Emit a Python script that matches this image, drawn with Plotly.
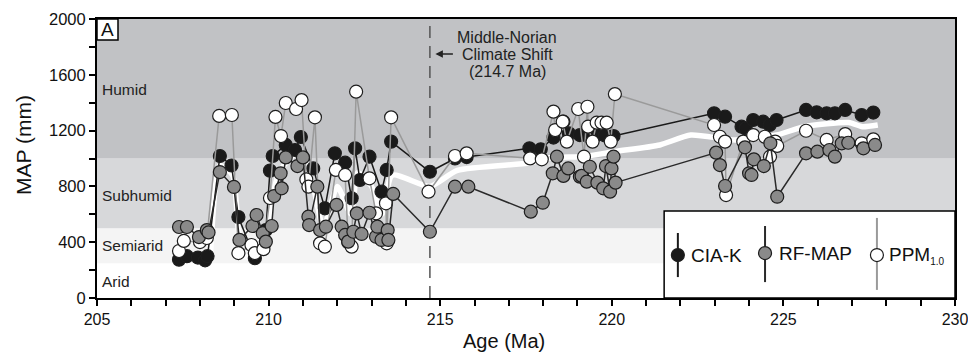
import plotly.graph_objects as go

# ---------------- data ----------------
cia_age = [207.39, 207.62, 207.94, 208.15, 208.22, 208.58, 208.92, 209.12, 209.6, 209.92,
           210.04, 210.12, 210.5, 210.77, 210.94, 211.3, 211.64, 211.93, 212.23, 212.42,
           212.52, 212.66, 212.94, 213.29, 213.44, 213.57, 214.7, 215.43, 215.77, 217.6,
           217.93, 218.3, 218.59, 218.75, 219.07, 219.3, 219.56, 219.8, 220.05, 222.98,
           223.3, 223.78, 223.9, 224.12, 224.41, 224.6, 224.8, 225.66, 225.97, 226.26,
           226.5, 226.8, 227.28, 227.62]
cia_map = [275, 300, 290, 270, 300, 1018, 950, 580, 285, 487,
           913, 1018, 1097, 1061, 1154, 929, 643, 1037, 970, 715,
           1073, 846, 1013, 762, 918, 1121, 905, 1000, 1010, 1073,
           1066, 1150, 1264, 1180, 1168, 1160, 1168, 1165, 1161, 1324,
           1300, 1228, 1216, 1276, 1264, 1240, 1276, 1348, 1331, 1324,
           1324, 1348, 1312, 1329]

rf_age = [207.39, 207.62, 207.97, 208.2, 208.25, 208.58, 208.99, 209.15, 209.53, 209.65,
          209.83, 209.92, 210.09, 210.16, 210.35, 210.38, 210.5, 210.84, 211.0, 211.16,
          211.18, 211.42, 211.5, 211.67, 211.98, 212.13, 212.23, 212.32, 212.47, 212.57,
          212.71, 212.94, 213.13, 213.17, 213.29, 213.47, 213.49, 213.63, 214.7, 215.43,
          215.82, 217.64, 217.99, 218.28, 218.4, 218.59, 218.73, 219.07, 219.12, 219.27,
          219.36, 219.58, 219.75, 219.83, 219.95, 219.99, 220.05, 220.11, 223.04, 223.15,
          223.3, 223.88, 224.0, 224.07, 224.14, 224.43, 224.62, 224.82, 225.66, 225.99,
          226.34, 226.5, 226.7, 226.89, 227.33, 227.67]
rf_map = [509, 509, 437, 487, 470, 903, 796, 416, 516, 595,
          464, 404, 516, 731, 894, 786, 1008, 946, 1008, 583,
          523, 798, 487, 511, 667, 511, 452, 404, 475, 607,
          459, 611, 439, 511, 416, 487, 416, 746, 475, 798,
          798, 619, 683, 894, 1013, 875, 929, 870, 875, 834,
          941, 827, 786, 946, 762, 929, 1013, 827, 1042, 953,
          803, 1080, 894, 882, 994, 946, 1109, 726, 1037, 1049,
          1061, 1013, 1109, 1113, 1073, 1097]

ppm_age = [207.39, 207.53, 208.0, 208.2, 208.56, 208.93, 209.12, 209.5, 209.6, 209.85,
           210.04, 210.2, 210.36, 210.5, 210.8, 210.96, 211.1, 211.16, 211.35, 211.5,
           211.64, 211.96, 212.23, 212.32, 212.42, 212.55, 212.94, 213.13, 213.42, 213.44,
           213.57, 214.66, 215.43, 215.77, 217.62, 217.96, 218.3, 218.35, 218.57, 218.69,
           219.02, 219.19, 219.29, 219.31, 219.44, 219.56, 219.7, 219.85, 219.97, 220.09,
           222.98, 223.15, 223.3, 223.33, 223.83, 224.12, 224.46, 224.61, 224.76, 224.82,
           225.66, 226.26, 226.8, 227.28, 227.62]
ppm_map = [337, 409, 401, 430, 1305, 1312, 322, 380, 322, 350,
           717, 1298, 1161, 1398, 1355, 1419, 850, 798, 1295, 392,
           368, 918, 882, 400, 368, 1479, 858, 607, 679, 392,
           1295, 762, 1018, 1037, 1001, 994, 1336, 1204, 1264, 1121,
           1355, 1013, 1371, 1228, 1121, 1257, 1257, 1257, 1121, 1462,
           1240, 1156, 1121, 738, 1121, 1168, 1156, 1013, 1121, 1090,
           1199, 1133, 1175, 1109, 1137]

trend_age = [208.3, 208.58, 208.95, 209.25, 209.75, 210.3, 210.9, 211.3, 211.6, 212.0,
             212.4, 212.6, 213.0, 213.3, 213.6, 214.7, 215.5, 217.6, 218.2, 219.2,
             220.1, 221.4, 222.3, 223.6, 224.8, 225.6, 226.9, 227.3, 227.75]
trend_map = [270, 950, 880, 300, 330, 900, 1050, 800, 500, 800,
             600, 900, 800, 600, 880, 800, 915, 968, 1005, 1015,
             1050, 1097, 1168, 1133, 1168, 1228, 1258, 1228, 1240]

bands = [(0, 250, "#ffffff"), (250, 500, "#f4f4f4"), (500, 1000, "#d7d8da"), (1000, 2000, "#c1c2c5")]
band_labels = [("Humid", 1498), ("Subhumid", 738), ("Semiarid", 373), ("Arid", 115)]
shift_age = 214.7
x_ticks = [205, 210, 215, 220, 225, 230]
y_ticks = [0, 400, 800, 1200, 1600, 2000]

FONT = "Arial, Liberation Sans, Helvetica, sans-serif"
fig = go.Figure()

# white trend line
fig.add_trace(go.Scatter(x=trend_age, y=trend_map, mode="lines",
                         line=dict(color="white", width=5.5, shape="spline", smoothing=0.6),
                         hoverinfo="skip"))

def series(x, y, fill, lcol):
    fig.add_trace(go.Scatter(x=x, y=y, mode="lines+markers",
                             line=dict(color=lcol, width=1.5),
                             marker=dict(size=13, color=fill, line=dict(color="#1e1e1e", width=1.2))))

series(cia_age, cia_map, "#1a1a1a", "#1a1a1a")
series(ppm_age, ppm_map, "#ffffff", "#9a9a9a")
series(rf_age, rf_map, "#8a8a8a", "#2a2a2a")

shapes = []
for y0, y1, c in bands:
    shapes.append(dict(type="rect", xref="paper", yref="y", x0=0, x1=1, y0=y0, y1=y1,
                       fillcolor=c, line=dict(width=0), layer="below"))
shapes.append(dict(type="line", xref="x", yref="paper", x0=shift_age, x1=shift_age, y0=0, y1=1,
                   line=dict(color="#555555", width=1.5, dash="12px,8px"), layer="below"))
# panel label box
shapes.append(dict(type="rect", xref="paper", yref="paper", x0=0, x1=21/858, y0=1-21/279, y1=1,
                   fillcolor="white", line=dict(color="black", width=1.5)))
# legend box
shapes.append(dict(type="rect", xref="paper", yref="paper", x0=0.661, x1=1, y0=0, y1=0.312,
                   fillcolor="white", line=dict(color="black", width=1.5)))
leg = [("CIA-K", 0.677, 0.154, 0.075, 0.233, "#1a1a1a", "#1a1a1a", 0.690),
       ("RF-MAP", 0.7786, 0.161, 0.057, 0.258, "#8a8a8a", "#2a2a2a", 0.7925),
       ("PPM<sub><span style='font-size:10px'>1.0</span></sub>", 0.909, 0.154, 0.029, 0.287,
        "#ffffff", "#9a9a9a", 0.9207)]
annotations = []
for name, cx, cy, ya, yb, fill, lcol, tx in leg:
    shapes.append(dict(type="line", xref="paper", yref="paper", x0=cx, x1=cx, y0=ya, y1=yb,
                       line=dict(color=lcol, width=2)))
    shapes.append(dict(type="circle", xref="paper", yref="paper", xsizemode="pixel", ysizemode="pixel",
                       xanchor=cx, yanchor=cy, x0=-6.5, x1=6.5, y0=-6.5, y1=6.5,
                       fillcolor=fill, line=dict(color="#1e1e1e", width=1.2)))
    annotations.append(dict(xref="paper", yref="paper", x=tx, y=cy, text=name, showarrow=False,
                            xanchor="left", yanchor="middle", font=dict(size=19, color="#111", family=FONT)))

for lab, yv in band_labels:
    annotations.append(dict(xref="paper", yref="y", x=3/858, y=yv, text=lab, showarrow=False,
                            xanchor="left", yanchor="middle", font=dict(size=15.5, color="#222", family=FONT)))
annotations.append(dict(xref="paper", yref="paper", x=10.5/858, y=1-10.5/279, text="A", showarrow=False,
                        xanchor="center", yanchor="middle", font=dict(size=19, color="#111", family=FONT)))
for txt, yv in [("Middle-Norian", 1868), ("Climate Shift", 1749), ("(214.7 Ma)", 1625)]:
    annotations.append(dict(x=216.95, y=yv, text=txt, showarrow=False, xanchor="center", yanchor="middle",
                            font=dict(size=16, color="#222", family=FONT)))
annotations.append(dict(x=214.86, y=1749, ax=19, ay=0, text="", showarrow=True, arrowhead=2,
                        arrowsize=1, arrowwidth=1.5, arrowcolor="#222"))
annotations.append(dict(xref="paper", yref="paper", x=-74/858, y=(298-145)/279, text="MAP (mm)",
                        textangle=-90, showarrow=False, xanchor="center", yanchor="middle",
                        font=dict(size=21, color="#111", family=FONT)))
annotations.append(dict(xref="paper", yref="paper", x=(504-97)/858, y=-(341-298)/279, text="Age (Ma)",
                        showarrow=False, xanchor="center", yanchor="middle",
                        font=dict(size=20, color="#111", family=FONT)))

fig.update_layout(
    width=968, height=358, margin=dict(l=97, r=13, t=19, b=60, autoexpand=False),
    paper_bgcolor="white", plot_bgcolor="white", showlegend=False,
    shapes=shapes, annotations=annotations, font=dict(family=FONT, color="#111"),
    xaxis=dict(range=[205, 230], tickvals=x_ticks, ticks="outside", ticklen=6, tickwidth=1.5,
               tickcolor="black", showline=True, linecolor="black", linewidth=2, mirror=True,
               showgrid=False, zeroline=False, tickfont=dict(size=16, family=FONT), automargin=False,
               ticklabeloverflow="allow",
               minor=dict(dtick=1, ticks="outside", ticklen=6, tickwidth=1.5, tickcolor="black")),
    yaxis=dict(range=[0, 2000], tickvals=y_ticks, ticks="outside", ticklen=6, tickwidth=1.5,
               tickcolor="black", showline=True, linecolor="black", linewidth=2, mirror=True,
               showgrid=False, zeroline=False, tickfont=dict(size=16.5, family=FONT), automargin=False,
               ticklabeloverflow="allow",
               minor=dict(dtick=200, ticks="outside", ticklen=6, tickwidth=1.5, tickcolor="black")),
)
fig.write_html("out.html")
